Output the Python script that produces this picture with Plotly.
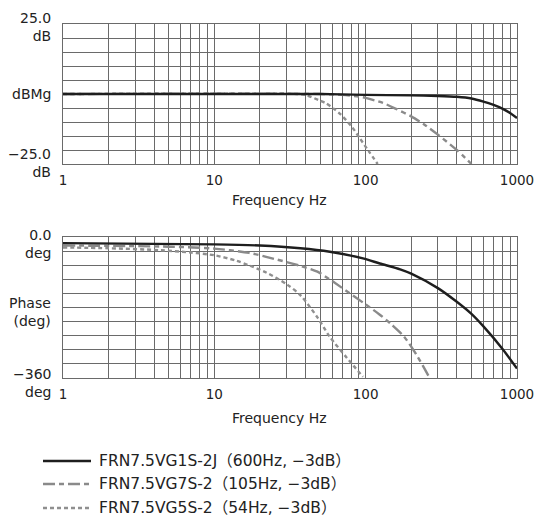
import plotly.graph_objects as go
from plotly.subplots import make_subplots

# ---- data ----
series_names = ["FRN7.5VG1S-2J（600Hz, −3dB）",
                "FRN7.5VG7S-2（105Hz, −3dB）",
                "FRN7.5VG5S-2（54Hz, −3dB）"]

# magnitude, dB
mag1_f = [1, 10, 50, 100, 200, 300, 400, 500, 600, 700, 800, 900, 1000]
mag1_db = [0, 0, 0, -0.3, -0.5, -0.7, -1.0, -1.6, -2.7, -3.9, -5.2, -6.8, -8.6]
mag2_f = [1, 50, 70, 90, 100, 130, 160, 200, 250, 300, 400, 500]
mag2_db = [0, 0, -0.3, -0.9, -1.4, -3.2, -5.4, -8.0, -11.3, -14.5, -20.0, -25.0]
mag3_f = [1, 35, 40, 50, 55, 62, 68, 80, 92, 105, 120]
mag3_db = [0, 0, -0.3, -2.4, -3.4, -5.4, -7.2, -11.3, -16.0, -20.5, -25.0]

# phase, deg
ph1_f = [1, 10, 20, 37, 58, 96, 124, 169, 200, 300, 400, 500, 600, 800, 1000]
ph1_deg = [-15, -18, -21, -28, -37, -54, -67, -82, -93, -130, -165, -196, -228, -285, -336]
ph2_f = [1, 5, 10, 17, 22, 37, 48, 58, 96, 124, 150, 180, 220, 262]
ph2_deg = [-21, -24, -29, -40, -50, -73, -88, -108, -167, -198, -225, -255, -305, -357]
ph3_f = [1, 2, 4.4, 7, 10, 14, 17, 22, 30, 37, 48, 58, 75, 96]
ph3_deg = [-26, -28, -33, -39, -46, -60, -72, -90, -120, -148, -205, -255, -308, -357]

decade_ticks = [1, 10, 100, 1000]
grid_ticks = [d * k for d in (1, 10, 100) for k in range(1, 10)] + [1000]
grid_text = [str(v) if v in decade_ticks else "" for v in grid_ticks]

styles = [dict(color="#1e1e1e", width=2.4, dash="solid"),
          dict(color="#8a8a8a", width=2.4, dash="12px,4px,5px,4px"),
          dict(color="#8f8f8f", width=2.4, dash="4px,3px")]

FONT = "DejaVu Sans, Noto Sans CJK JP"
W, H = 534, 521
L, R, T, B = 63, 17, 24, 143


def py(px):  # page pixel y -> paper y
    return (378 - px) / 354


def px_(px):  # page pixel x -> paper x
    return (px - 63) / 454


fig = make_subplots(rows=2, cols=1)

mags = [(mag1_f, mag1_db), (mag2_f, mag2_db), (mag3_f, mag3_db)]
phs = [(ph1_f, ph1_deg), (ph2_f, ph2_deg), (ph3_f, ph3_deg)]
for i in (2, 1, 0):
    fig.add_trace(go.Scatter(x=mags[i][0], y=mags[i][1], mode="lines",
                             line=dict(**styles[i], shape="spline", smoothing=0.7),
                             showlegend=False, name=series_names[i]), row=1, col=1)
    fig.add_trace(go.Scatter(x=phs[i][0], y=phs[i][1], mode="lines",
                             line=dict(**styles[i], shape="spline", smoothing=0.8),
                             showlegend=False, name=series_names[i]), row=2, col=1)

grid_col = "#6a6a6a"
fig.update_xaxes(type="log", range=[0, 3], tickmode="array", tickvals=grid_ticks, ticktext=grid_text,
                 showgrid=True, gridcolor=grid_col, gridwidth=1, showline=True, linecolor=grid_col,
                 linewidth=1, mirror=True, ticks="", zeroline=False, ticklabeloverflow="allow",
                 automargin=False,
                 tickfont=dict(family=FONT, size=13.5, color="#222"), ticklabelstandoff=4)
fig.update_yaxes(showgrid=True, gridcolor=grid_col, gridwidth=1, showline=True, linecolor=grid_col,
                 linewidth=1, mirror=True, ticks="", zeroline=False, showticklabels=False,
                 automargin=False)
fig.update_yaxes(range=[-25, 25], dtick=5, tick0=-25, row=1, col=1)
fig.update_yaxes(range=[-360, 0], dtick=36, tick0=-360, row=2, col=1)

fig.update_layout(
    width=W, height=H, margin=dict(l=L, r=R, t=T, b=B),
    paper_bgcolor="white", plot_bgcolor="white",
    xaxis=dict(domain=[0, 1], anchor="y"), yaxis=dict(domain=[py(164), 1.0]),
    xaxis2=dict(domain=[0, 1], anchor="y2"), yaxis2=dict(domain=[0, py(237.3)]),
    font=dict(family=FONT, size=14, color="#222"),
)

ann = []
lbl_x = px_(53)


def lab(text, ypx, size=14):
    ann.append(dict(text=text, x=lbl_x, y=py(ypx), xref="paper", yref="paper",
                    xanchor="right", yanchor="middle", align="right", showarrow=False,
                    font=dict(family=FONT, size=size, color="#222")))


lab("25.0<br>dB", 27)
lab("dBMg", 94)
lab("−25.0<br>dB", 163)
lab("0.0<br>deg", 243.5)
lab("Phase<br>(deg)", 312)
lab("−360<br>deg", 382.5)

for ypx in (200, 418):
    ann.append(dict(text="Frequency Hz", x=px_(279), y=py(ypx), xref="paper", yref="paper",
                    xanchor="center", yanchor="middle", showarrow=False,
                    font=dict(family=FONT, size=14, color="#222")))

legend_y = [461, 484, 508]
shapes = []
for i, ypx in enumerate(legend_y):
    shapes.append(dict(type="line", xref="paper", yref="paper", x0=px_(43), x1=px_(91),
                       y0=py(ypx), y1=py(ypx),
                       line=dict(color=styles[i]["color"], width=styles[i]["width"],
                                 dash=styles[i]["dash"])))
    ann.append(dict(text=series_names[i], x=px_(97), y=py(ypx), xref="paper", yref="paper",
                    xanchor="left", yanchor="middle", showarrow=False,
                    font=dict(family=FONT, size=15.5, color="#222")))

fig.update_layout(annotations=ann, shapes=shapes)
fig.write_html("out.html", config={"displayModeBar": False},
               post_script="document.body.style.margin='0';document.body.style.overflow='hidden';")
